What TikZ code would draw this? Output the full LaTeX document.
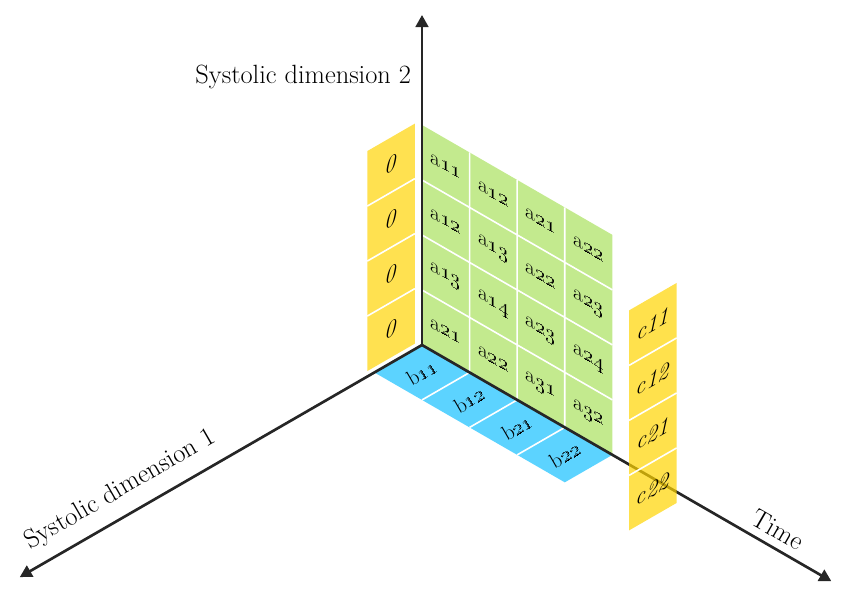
\documentclass[tikz,border=0pt]{standalone}
\usepackage{fix-cm}
\usepackage{tikz}
\usetikzlibrary{arrows.meta,positioning}
\definecolor{CellGreen}{HTML}{C3EA8E}
\definecolor{CellYellow}{HTML}{FFE150}
\definecolor{CellBlue}{HTML}{5CD3FF}
\definecolor{GlassYellow}{HTML}{FFD400}
\definecolor{AxisInk}{HTML}{262626}
\newcommand{\elem}[2]{#1\oldstylenums{#2}}

\begin{document}
\begin{tikzpicture}[
  x={(35.7pt,-20.6pt)},y={(-35.7pt,-20.6pt)},z={(0pt,41.25pt)},
  axis/.style={-{Triangle[length=9pt,width=9.5pt]},draw=AxisInk,line width=2pt},
  gridline/.style={draw=white,line width=1.2pt},
  axislabel/.style={font=\fontsize{19.8}{24}\selectfont,inner sep=0pt},
  cell/.style={font=\fontsize{16}{19}\selectfont,inner sep=0pt},
  front/.style={cell,yslant=-0.577},
  side/.style={cell,font=\fontsize{17}{20}\selectfont,yslant=0.577},
  floor/.style={cell,rotate=30}
]
  \useasboundingbox (-316.5pt,-186.75pt) rectangle (318.75pt,258.75pt);

  % weights in the time / dimension 2 plane
  \fill[CellGreen] (0,0,0) -- (4,0,0) -- (4,0,4) -- (0,0,4) -- cycle;
  \draw[gridline] (1,0,0) -- (1,0,4) (2,0,0) -- (2,0,4) (3,0,0) -- (3,0,4)
    (0,0,1) -- (4,0,1) (0,0,2) -- (4,0,2) (0,0,3) -- (4,0,3);

  % inputs on the floor
  \fill[CellBlue] (0,0,0) -- (4,0,0) -- (4,1,0) -- (0,1,0) -- cycle;
  \draw[gridline] (1,0,0) -- (1,1,0) (2,0,0) -- (2,1,0) (3,0,0) -- (3,1,0);

  % initial partial sums
  \fill[CellYellow] (-0.1,0.05,0) -- (-0.1,1.05,0) -- (-0.1,1.05,4) -- (-0.1,0.05,4) -- cycle;
  \draw[gridline] (-0.1,0.05,1) -- (-0.1,1.05,1) (-0.1,0.05,2) -- (-0.1,1.05,2)
    (-0.1,0.05,3) -- (-0.1,1.05,3);

  \coordinate (origin) at (0,0,0);
  \coordinate (dimtwoend) at (0,0,6);
  \coordinate (dimoneend) at (0,8.45,0);
  \coordinate (timeend) at (8.6,0,0);
  \draw[axis] (origin) -- (dimtwoend);
  \draw[axis] (origin) -- (dimoneend);
  \draw[axis] (origin) -- (timeend);

  % outputs, the time axis shows through
  \fill[GlassYellow,fill opacity=0.7] (5.55,0.2,0) -- (5.55,1.2,0) -- (5.55,1.2,4) -- (5.55,0.2,4) -- cycle;
  \draw[gridline] (5.55,0.2,1) -- (5.55,1.2,1) (5.55,0.2,2) -- (5.55,1.2,2)
    (5.55,0.2,3) -- (5.55,1.2,3);

  \node[front] (a1) at (0.5,0,3.5) {\elem{a}{11}};
  \node[front] (a2) at (0.5,0,2.5) {\elem{a}{12}};
  \node[front] (a3) at (0.5,0,1.5) {\elem{a}{13}};
  \node[front] (a4) at (0.5,0,0.5) {\elem{a}{21}};
  \node[front] (a5) at (1.5,0,3.5) {\elem{a}{12}};
  \node[front] (a6) at (1.5,0,2.5) {\elem{a}{13}};
  \node[front] (a7) at (1.5,0,1.5) {\elem{a}{14}};
  \node[front] (a8) at (1.5,0,0.5) {\elem{a}{22}};
  \node[front] (a9) at (2.5,0,3.5) {\elem{a}{21}};
  \node[front] (a10) at (2.5,0,2.5) {\elem{a}{22}};
  \node[front] (a11) at (2.5,0,1.5) {\elem{a}{23}};
  \node[front] (a12) at (2.5,0,0.5) {\elem{a}{31}};
  \node[front] (a13) at (3.5,0,3.5) {\elem{a}{22}};
  \node[front] (a14) at (3.5,0,2.5) {\elem{a}{23}};
  \node[front] (a15) at (3.5,0,1.5) {\elem{a}{24}};
  \node[front] (a16) at (3.5,0,0.5) {\elem{a}{32}};

  \node[floor] (b1) at (0.5,0.5,0) {\elem{b}{11}};
  \node[floor] (b2) at (1.5,0.5,0) {\elem{b}{12}};
  \node[floor] (b3) at (2.5,0.5,0) {\elem{b}{21}};
  \node[floor] (b4) at (3.5,0.5,0) {\elem{b}{22}};

  \node[side] (z1) at (-0.1,0.55,3.5) {\textit{0}};
  \node[side] (z2) at (-0.1,0.55,2.5) {\textit{0}};
  \node[side] (z3) at (-0.1,0.55,1.5) {\textit{0}};
  \node[side] (z4) at (-0.1,0.55,0.5) {\textit{0}};

  \node[side] (c1) at (5.55,0.7,3.5) {\textit{c11}};
  \node[side] (c2) at (5.55,0.7,2.5) {\textit{c12}};
  \node[side] (c3) at (5.55,0.7,1.5) {\textit{c21}};
  \node[side] (c4) at (5.55,0.7,0.5) {\textit{c22}};

  \node[axislabel,left=8pt] (dimtwo) at (0,0,4.87) {Systolic dimension 2};
  \node[axislabel,rotate=30] (dimone) at (0,6.34,0.53) {Systolic dimension 1};
  \node[axislabel,rotate=-30] (time) at (7.48,0,0.38) {Time};
\end{tikzpicture}
\end{document}
